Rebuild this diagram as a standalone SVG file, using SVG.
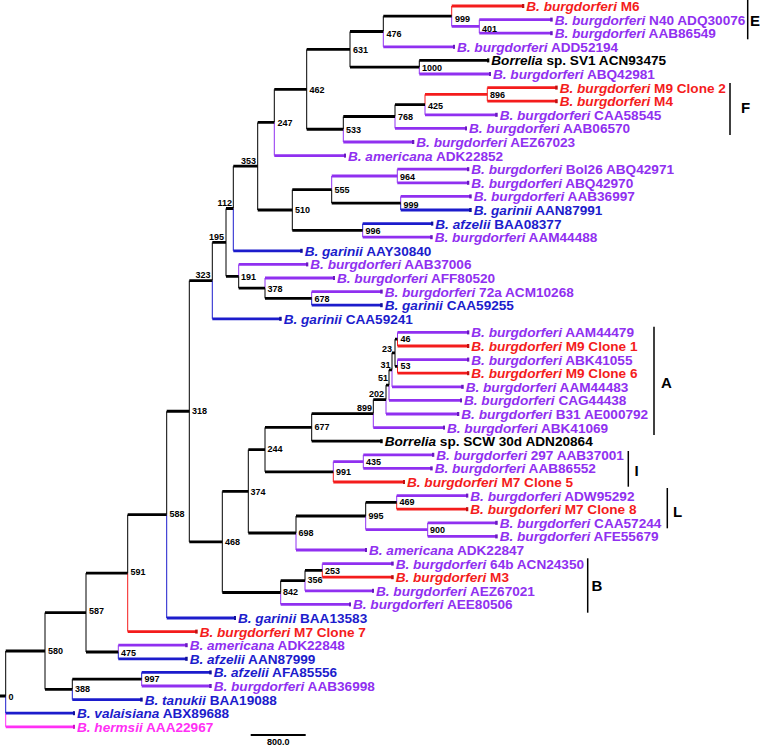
<svg xmlns="http://www.w3.org/2000/svg" width="760" height="746" viewBox="0 0 760 746">
<style>
.h{fill:none;stroke-width:2.8}
.v{fill:none;stroke-width:1}
.k{stroke:#000}.r{stroke:#f41c1c}.p{stroke:#9030f0}.u{stroke:#1c1ccc}.m{stroke:#ff30f5}
.h.k{marker-end:url(#tk)}.h.r{marker-end:url(#tr)}.h.p{marker-end:url(#tp)}.h.u{marker-end:url(#tu)}.h.m{marker-end:url(#tm)}
.h.n{marker-end:none}
.lf{font-family:"Liberation Sans",Arial,Helvetica,sans-serif;font-size:13.6px;font-weight:bold}
.i{font-style:italic}
.fk{fill:#000}.fr{fill:#f41c1c}.fp{fill:#9030f0}.fu{fill:#1c1ccc}.fm{fill:#ff30f5}
.bs{font-family:"Liberation Sans",Arial,Helvetica,sans-serif;font-size:9px;font-weight:bold;fill:#000}
.be{text-anchor:end}
.cl{font-family:"Liberation Sans",Arial,Helvetica,sans-serif;font-size:15px;font-weight:bold;fill:#000}
.bar{stroke:#000;stroke-width:1.5;fill:none}
</style>
<defs>
<marker id="tk" markerUnits="userSpaceOnUse" markerWidth="4" markerHeight="6" refX="1.5" refY="3"><rect x="0" y="1" width="2.5" height="4" fill="#000"/></marker>
<marker id="tr" markerUnits="userSpaceOnUse" markerWidth="4" markerHeight="6" refX="1.5" refY="3"><rect x="0" y="1" width="2.5" height="4" fill="#c01010"/></marker>
<marker id="tp" markerUnits="userSpaceOnUse" markerWidth="4" markerHeight="6" refX="1.5" refY="3"><rect x="0" y="1" width="2.5" height="4" fill="#6a18c0"/></marker>
<marker id="tu" markerUnits="userSpaceOnUse" markerWidth="4" markerHeight="6" refX="1.5" refY="3"><rect x="0" y="1" width="2.5" height="4" fill="#10109a"/></marker>
<marker id="tm" markerUnits="userSpaceOnUse" markerWidth="4" markerHeight="6" refX="1.5" refY="3"><rect x="0" y="1" width="2.5" height="4" fill="#d010c8"/></marker>
</defs>
<rect width="760" height="746" fill="#fff"/>
<g id="connectors">
<path class="v k" d="M383.3 31.5V16.2M419.3 67.2V60.4M350 31.5V67.2M395 116.5V104.6M343.3 129.25V116.5M306.7 49.35V129.25M274.3 122.45V89.3M331.7 189.6V203.2M292.3 189.6V230.4M257.7 122.45V210M233.3 208.5V166.2M265 288.2V298.4M238.7 276.3V288.2M226 208.5V276.3M212.3 280.6V242.4M395 339.2V366.4M392 369.8V352.8M389 385.1V369.8M386 399.55V385.1M373.3 413.6V399.55M311.7 413.6V441.2M265 427.4V471.8M365.7 516V502.4M296 533V516M248.3 449.6V533M305 580.6V570.4M280.7 592.5V580.6M222.3 491.3V592.5M189.3 280.6V541.9M166.7 514.6V411.25M127.7 573.1V514.6M86 573.1V652M72.3 689.4V679.2M45 612.55V689.4M5.7 696V651"/>
<path class="v r" d="M451.7 16.2V6M487.3 87.6V101.2M425 104.6V94.4M397.5 339.2V346M397.5 366.4V373.2M333.3 471.8V482M396.7 502.4V509.2M322.3 570.4V577.2M127.7 573.1V631.6"/>
<path class="v p" d="M451.7 16.2V26.4M479.3 19.6V33.2M383.3 31.5V46.8M419.3 67.2V74M425 104.6V114.8M395 116.5V128.4M343.3 129.25V142M274.3 122.45V155.6M397.3 169.2V182.8M400.7 203.2V196.4M331.7 189.6V176M362.7 230.4V237.2M265 288.2V278M311.7 298.4V291.6M238.7 276.3V264.4M397.5 339.2V332.4M397.5 366.4V359.6M392 369.8V386.8M389 385.1V400.4M386 399.55V414M373.3 413.6V427.6M363.3 454.8V468.4M333.3 471.8V461.6M396.7 502.4V495.6M427.7 522.8V536.4M365.7 516V529.6M296 533V550M322.3 570.4V563.6M305 580.6V590.8M280.7 592.5V604.4M118.3 652V645.2M141.7 679.2V686"/>
<path class="v u" d="M400.7 203.2V210M362.7 230.4V223.6M233.3 208.5V250.8M311.7 298.4V305.2M212.3 280.6V318.8M166.7 514.6V618M118.3 652V658.8M141.7 679.2V672.4M72.3 689.4V699.6M5.7 696V713.2"/>
<path class="v m" d="M5.7 713.2V726.8"/>
<path class="h k n" d="M383.3 16.2H451.7M350 31.5H383.3M350 67.2H419.3M306.7 49.35H350M395 104.6H425M343.3 116.5H395M306.7 129.25H343.3M274.3 89.3H306.7M257.7 122.45H274.3M331.7 203.2H400.7M292.3 189.6H331.7M292.3 230.4H362.7M257.7 210H292.3M233.3 166.2H257.7M226 208.5H233.3M265 298.4H311.7M238.7 288.2H265M226 276.3H238.7M212.3 242.4H226M189.3 280.6H212.3M395 339.2H397.5M395 366.4H397.5M392 352.8H395M389 369.8H392M386 385.1H389M373.3 399.55H386M311.7 413.6H373.3M265 427.4H311.7M265 471.8H333.3M248.3 449.6H265M365.7 502.4H396.7M296 516H365.7M248.3 533H296M222.3 491.3H248.3M305 570.4H322.3M280.7 580.6H305M222.3 592.5H280.7M189.3 541.9H222.3M166.7 411.25H189.3M127.7 514.6H166.7M86 573.1H127.7M86 652H118.3M45 612.55H86M72.3 679.2H141.7M45 689.4H72.3M5.7 651H45M0 696H5.7"/>
<path class="h p n" d="M451.7 26.4H479.3M331.7 176H397.3M333.3 461.6H363.3M365.7 529.6H427.7"/>
<path class="h r n" d="M425 94.4H487.3"/>
<path class="h r" d="M451.7 6H523.3"/>
<path class="h p" d="M479.3 19.6H551.7"/>
<path class="h p" d="M479.3 33.2H551.7"/>
<path class="h p" d="M383.3 46.8H454"/>
<path class="h k" d="M419.3 60.4H488.3"/>
<path class="h p" d="M419.3 74H490"/>
<path class="h r" d="M487.3 87.6H556.7"/>
<path class="h r" d="M487.3 101.2H556.7"/>
<path class="h p" d="M425 114.8H496.7"/>
<path class="h p" d="M395 128.4H466"/>
<path class="h p" d="M343.3 142H413.3"/>
<path class="h p" d="M274.3 155.6H345"/>
<path class="h p" d="M397.3 169.2H468.3"/>
<path class="h p" d="M397.3 182.8H468.3"/>
<path class="h p" d="M400.7 196.4H470.7"/>
<path class="h u" d="M400.7 210H470.7"/>
<path class="h u" d="M362.7 223.6H432.3"/>
<path class="h p" d="M362.7 237.2H431.7"/>
<path class="h u" d="M233.3 250.8H301.7"/>
<path class="h p" d="M238.7 264.4H307.3"/>
<path class="h p" d="M265 278H334"/>
<path class="h p" d="M311.7 291.6H381.7"/>
<path class="h u" d="M311.7 305.2H381.7"/>
<path class="h u" d="M212.3 318.8H280.7"/>
<path class="h p" d="M397.5 332.4H468.3"/>
<path class="h r" d="M397.5 346H468.3"/>
<path class="h p" d="M397.5 359.6H468.3"/>
<path class="h r" d="M397.5 373.2H468.3"/>
<path class="h p" d="M392 386.8H462.7"/>
<path class="h p" d="M389 400.4H461"/>
<path class="h p" d="M386 414H458.3"/>
<path class="h p" d="M373.3 427.6H444"/>
<path class="h k" d="M311.7 441.2H381.7"/>
<path class="h p" d="M363.3 454.8H433.3"/>
<path class="h p" d="M363.3 468.4H431.7"/>
<path class="h r" d="M333.3 482H404"/>
<path class="h p" d="M396.7 495.6H467.3"/>
<path class="h r" d="M396.7 509.2H467.3"/>
<path class="h p" d="M427.7 522.8H496.7"/>
<path class="h p" d="M427.7 536.4H496.7"/>
<path class="h p" d="M296 550H366"/>
<path class="h p" d="M322.3 563.6H392.7"/>
<path class="h r" d="M322.3 577.2H392.7"/>
<path class="h p" d="M305 590.8H373"/>
<path class="h p" d="M280.7 604.4H350"/>
<path class="h u" d="M166.7 618H235"/>
<path class="h r" d="M127.7 631.6H196.7"/>
<path class="h p" d="M118.3 645.2H186.7"/>
<path class="h u" d="M118.3 658.8H186.7"/>
<path class="h u" d="M141.7 672.4H210.7"/>
<path class="h p" d="M141.7 686H210.7"/>
<path class="h u" d="M72.3 699.6H141.7"/>
<path class="h u" d="M5.7 713.2H74"/>
<path class="h m" d="M5.7 726.8H74"/>
</g>
<g id="leaf-1"><text class="lf fr" x="526.3" y="11"><tspan class="i">B. burgdorferi</tspan> M6</text></g>
<g id="leaf-2"><text class="lf fp" x="554.7" y="24.6"><tspan class="i">B. burgdorferi</tspan> N40 ADQ30076</text></g>
<g id="leaf-3"><text class="lf fp" x="554.7" y="38.2"><tspan class="i">B. burgdorferi</tspan> AAB86549</text></g>
<g id="leaf-4"><text class="lf fp" x="457" y="51.8"><tspan class="i">B. burgdorferi</tspan> ADD52194</text></g>
<g id="leaf-5"><text class="lf fk" x="491.3" y="65.4"><tspan class="i">Borrelia</tspan> sp. SV1 ACN93475</text></g>
<g id="leaf-6"><text class="lf fp" x="493" y="79"><tspan class="i">B. burgdorferi</tspan> ABQ42981</text></g>
<g id="leaf-7"><text class="lf fr" x="559.7" y="92.6"><tspan class="i">B. burgdorferi</tspan> M9 Clone 2</text></g>
<g id="leaf-8"><text class="lf fr" x="559.7" y="106.2"><tspan class="i">B. burgdorferi</tspan> M4</text></g>
<g id="leaf-9"><text class="lf fp" x="499.7" y="119.8"><tspan class="i">B. burgdorferi</tspan> CAA58545</text></g>
<g id="leaf-10"><text class="lf fp" x="469" y="133.4"><tspan class="i">B. burgdorferi</tspan> AAB06570</text></g>
<g id="leaf-11"><text class="lf fp" x="416.3" y="147"><tspan class="i">B. burgdorferi</tspan> AEZ67023</text></g>
<g id="leaf-12"><text class="lf fp" x="348" y="160.6"><tspan class="i">B. americana</tspan> ADK22852</text></g>
<g id="leaf-13"><text class="lf fp" x="471.3" y="174.2"><tspan class="i">B. burgdorferi</tspan> Bol26 ABQ42971</text></g>
<g id="leaf-14"><text class="lf fp" x="471.3" y="187.8"><tspan class="i">B. burgdorferi</tspan> ABQ42970</text></g>
<g id="leaf-15"><text class="lf fp" x="473.7" y="201.4"><tspan class="i">B. burgdorferi</tspan> AAB36997</text></g>
<g id="leaf-16"><text class="lf fu" x="473.7" y="215"><tspan class="i">B. garinii</tspan> AAN87991</text></g>
<g id="leaf-17"><text class="lf fu" x="435.3" y="228.6"><tspan class="i">B. afzelii</tspan> BAA08377</text></g>
<g id="leaf-18"><text class="lf fp" x="434.7" y="242.2"><tspan class="i">B. burgdorferi</tspan> AAM44488</text></g>
<g id="leaf-19"><text class="lf fu" x="304.7" y="255.8"><tspan class="i">B. garinii</tspan> AAY30840</text></g>
<g id="leaf-20"><text class="lf fp" x="310.3" y="269.4"><tspan class="i">B. burgdorferi</tspan> AAB37006</text></g>
<g id="leaf-21"><text class="lf fp" x="337" y="283"><tspan class="i">B. burgdorferi</tspan> AFF80520</text></g>
<g id="leaf-22"><text class="lf fp" x="384.7" y="296.6"><tspan class="i">B. burgdorferi</tspan> 72a ACM10268</text></g>
<g id="leaf-23"><text class="lf fu" x="384.7" y="310.2"><tspan class="i">B. garinii</tspan> CAA59255</text></g>
<g id="leaf-24"><text class="lf fu" x="283.7" y="323.8"><tspan class="i">B. garinii</tspan> CAA59241</text></g>
<g id="leaf-25"><text class="lf fp" x="471.3" y="337.4"><tspan class="i">B. burgdorferi</tspan> AAM44479</text></g>
<g id="leaf-26"><text class="lf fr" x="471.3" y="351"><tspan class="i">B. burgdorferi</tspan> M9 Clone 1</text></g>
<g id="leaf-27"><text class="lf fp" x="471.3" y="364.6"><tspan class="i">B. burgdorferi</tspan> ABK41055</text></g>
<g id="leaf-28"><text class="lf fr" x="471.3" y="378.2"><tspan class="i">B. burgdorferi</tspan> M9 Clone 6</text></g>
<g id="leaf-29"><text class="lf fp" x="465.7" y="391.8"><tspan class="i">B. burgdorferi</tspan> AAM44483</text></g>
<g id="leaf-30"><text class="lf fp" x="464" y="405.4"><tspan class="i">B. burgdorferi</tspan> CAG44438</text></g>
<g id="leaf-31"><text class="lf fp" x="461.3" y="419"><tspan class="i">B. burgdorferi</tspan> B31 AE000792</text></g>
<g id="leaf-32"><text class="lf fp" x="447" y="432.6"><tspan class="i">B. burgdorferi</tspan> ABK41069</text></g>
<g id="leaf-33"><text class="lf fk" x="384.7" y="446.2"><tspan class="i">Borrelia</tspan> sp. SCW 30d ADN20864</text></g>
<g id="leaf-34"><text class="lf fp" x="436.3" y="459.8"><tspan class="i">B. burgdorferi</tspan> 297 AAB37001</text></g>
<g id="leaf-35"><text class="lf fp" x="434.7" y="473.4"><tspan class="i">B. burgdorferi</tspan> AAB86552</text></g>
<g id="leaf-36"><text class="lf fr" x="407" y="487"><tspan class="i">B. burgdorferi</tspan> M7 Clone 5</text></g>
<g id="leaf-37"><text class="lf fp" x="470.3" y="500.6"><tspan class="i">B. burgdorferi</tspan> ADW95292</text></g>
<g id="leaf-38"><text class="lf fr" x="470.3" y="514.2"><tspan class="i">B. burgdorferi</tspan> M7 Clone 8</text></g>
<g id="leaf-39"><text class="lf fp" x="499.7" y="527.8"><tspan class="i">B. burgdorferi</tspan> CAA57244</text></g>
<g id="leaf-40"><text class="lf fp" x="499.7" y="541.4"><tspan class="i">B. burgdorferi</tspan> AFE55679</text></g>
<g id="leaf-41"><text class="lf fp" x="369" y="555"><tspan class="i">B. americana</tspan> ADK22847</text></g>
<g id="leaf-42"><text class="lf fp" x="395.7" y="568.6"><tspan class="i">B. burgdorferi</tspan> 64b ACN24350</text></g>
<g id="leaf-43"><text class="lf fr" x="395.7" y="582.2"><tspan class="i">B. burgdorferi</tspan> M3</text></g>
<g id="leaf-44"><text class="lf fp" x="376" y="595.8"><tspan class="i">B. burgdorferi</tspan> AEZ67021</text></g>
<g id="leaf-45"><text class="lf fp" x="353" y="609.4"><tspan class="i">B. burgdorferi</tspan> AEE80506</text></g>
<g id="leaf-46"><text class="lf fu" x="238" y="623"><tspan class="i">B. garinii</tspan> BAA13583</text></g>
<g id="leaf-47"><text class="lf fr" x="199.7" y="636.6"><tspan class="i">B. burgdorferi</tspan> M7 Clone 7</text></g>
<g id="leaf-48"><text class="lf fp" x="189.7" y="650.2"><tspan class="i">B. americana</tspan> ADK22848</text></g>
<g id="leaf-49"><text class="lf fu" x="189.7" y="663.8"><tspan class="i">B. afzelii</tspan> AAN87999</text></g>
<g id="leaf-50"><text class="lf fu" x="213.7" y="677.4"><tspan class="i">B. afzelii</tspan> AFA85556</text></g>
<g id="leaf-51"><text class="lf fp" x="213.7" y="691"><tspan class="i">B. burgdorferi</tspan> AAB36998</text></g>
<g id="leaf-52"><text class="lf fu" x="144.7" y="704.6"><tspan class="i">B. tanukii</tspan> BAA19088</text></g>
<g id="leaf-53"><text class="lf fu" x="77" y="718.2"><tspan class="i">B. valaisiana</tspan> ABX89688</text></g>
<g id="leaf-54"><text class="lf fm" x="77" y="731.8"><tspan class="i">B. hermsii</tspan> AAA22967</text></g>
<g id="node-999a"><text class="bs" x="455" y="21.5">999</text></g>
<g id="node-401"><text class="bs" x="482" y="31.5">401</text></g>
<g id="node-476"><text class="bs" x="386.5" y="36.5">476</text></g>
<g id="node-1000"><text class="bs" x="422" y="71">1000</text></g>
<g id="node-631"><text class="bs" x="353" y="53">631</text></g>
<g id="node-896"><text class="bs" x="490" y="97.5">896</text></g>
<g id="node-425"><text class="bs" x="428" y="109">425</text></g>
<g id="node-768"><text class="bs" x="398" y="120">768</text></g>
<g id="node-533"><text class="bs" x="346" y="132.5">533</text></g>
<g id="node-462"><text class="bs" x="309.5" y="92.5">462</text></g>
<g id="node-247"><text class="bs" x="277.5" y="126">247</text></g>
<g id="node-964"><text class="bs" x="400" y="180">964</text></g>
<g id="node-999b"><text class="bs" x="403.5" y="208">999</text></g>
<g id="node-555"><text class="bs" x="334.5" y="192.5">555</text></g>
<g id="node-510"><text class="bs" x="295" y="213">510</text></g>
<g id="node-996"><text class="bs" x="365.5" y="234">996</text></g>
<g id="node-353"><text class="bs be" x="256" y="163.5">353</text></g>
<g id="node-112"><text class="bs be" x="232" y="205.5">112</text></g>
<g id="node-195"><text class="bs be" x="224" y="240">195</text></g>
<g id="node-323"><text class="bs be" x="210.5" y="278">323</text></g>
<g id="node-191"><text class="bs" x="241" y="280">191</text></g>
<g id="node-378"><text class="bs" x="267.5" y="292">378</text></g>
<g id="node-678"><text class="bs" x="314.5" y="301.5">678</text></g>
<g id="node-46"><text class="bs" x="400.5" y="341.5">46</text></g>
<g id="node-53"><text class="bs" x="400.5" y="369">53</text></g>
<g id="node-23"><text class="bs be" x="392" y="351.5">23</text></g>
<g id="node-31"><text class="bs be" x="390.5" y="368">31</text></g>
<g id="node-51"><text class="bs be" x="388" y="381">51</text></g>
<g id="node-202"><text class="bs be" x="384" y="397">202</text></g>
<g id="node-899"><text class="bs be" x="372" y="410.5">899</text></g>
<g id="node-318"><text class="bs" x="192" y="414">318</text></g>
<g id="node-677"><text class="bs" x="314.5" y="430">677</text></g>
<g id="node-244"><text class="bs" x="267.5" y="451.5">244</text></g>
<g id="node-435"><text class="bs" x="366" y="464.5">435</text></g>
<g id="node-991"><text class="bs" x="336" y="475">991</text></g>
<g id="node-374"><text class="bs" x="250.5" y="494.5">374</text></g>
<g id="node-469"><text class="bs" x="399.5" y="504.5">469</text></g>
<g id="node-995"><text class="bs" x="368.5" y="518.5">995</text></g>
<g id="node-698"><text class="bs" x="298.5" y="535.5">698</text></g>
<g id="node-900"><text class="bs" x="430" y="533">900</text></g>
<g id="node-588"><text class="bs" x="169.5" y="516.5">588</text></g>
<g id="node-468"><text class="bs" x="225" y="544.5">468</text></g>
<g id="node-591"><text class="bs" x="130.5" y="575">591</text></g>
<g id="node-253"><text class="bs" x="325" y="573.5">253</text></g>
<g id="node-356"><text class="bs" x="307.5" y="582.5">356</text></g>
<g id="node-842"><text class="bs" x="283" y="594.5">842</text></g>
<g id="node-587"><text class="bs" x="89" y="614">587</text></g>
<g id="node-580"><text class="bs" x="48" y="654">580</text></g>
<g id="node-475"><text class="bs" x="121" y="655.5">475</text></g>
<g id="node-997"><text class="bs" x="144.5" y="681.5">997</text></g>
<g id="node-388"><text class="bs" x="75" y="691.5">388</text></g>
<g id="node-root"><text class="bs" x="8.5" y="699.5">0</text></g>
<g id="clade-E"><path class="bar" d="M747.7 0V39.3"/><text class="cl" x="750" y="25.5">E</text></g>
<g id="clade-F"><path class="bar" d="M730 83V135"/><text class="cl" x="741" y="112.5">F</text></g>
<g id="clade-A"><path class="bar" d="M654 326.7V435"/><text class="cl" x="661" y="387.5">A</text></g>
<g id="clade-I"><path class="bar" d="M628.3 451V486.7"/><text class="cl" x="634.5" y="475.5">I</text></g>
<g id="clade-L"><path class="bar" d="M667.3 488V528.3"/><text class="cl" x="673" y="516.5">L</text></g>
<g id="clade-B"><path class="bar" d="M587.7 558.3V612.7"/><text class="cl" x="591.5" y="590.5">B</text></g>
<g id="scale"><path d="M250.7 735H305.7" stroke="#000" stroke-width="2" fill="none"/><text class="bs" x="278.2" y="745" text-anchor="middle">800.0</text></g>
</svg>
